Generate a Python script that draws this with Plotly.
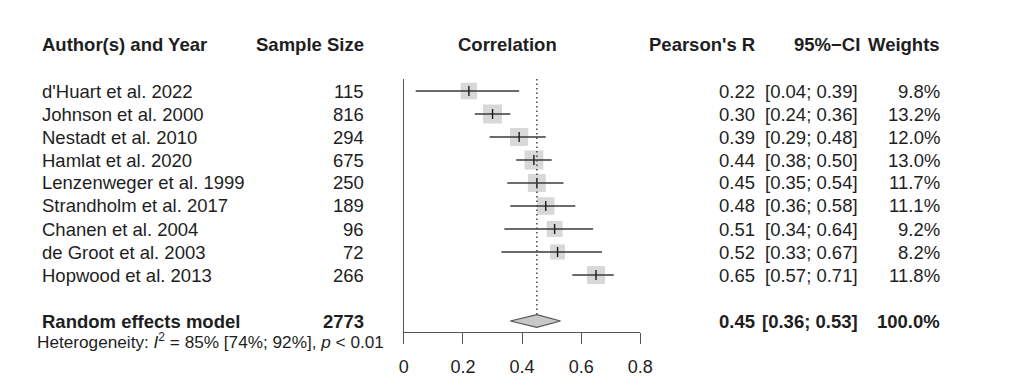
import plotly.graph_objects as go

# ---- data ----
studies = ["d'Huart et al. 2022", "Johnson et al. 2000", "Nestadt et al. 2010",
           "Hamlat et al. 2020", "Lenzenweger et al. 1999", "Strandholm et al. 2017",
           "Chanen et al. 2004", "de Groot et al. 2003", "Hopwood et al. 2013"]
sample_size = [115, 816, 294, 675, 250, 189, 96, 72, 266]
pearson_r = [0.22, 0.30, 0.39, 0.44, 0.45, 0.48, 0.51, 0.52, 0.65]
ci_low = [0.04, 0.24, 0.29, 0.38, 0.35, 0.36, 0.34, 0.33, 0.57]
ci_high = [0.39, 0.36, 0.48, 0.50, 0.54, 0.58, 0.64, 0.67, 0.71]
weights = [9.8, 13.2, 12.0, 13.0, 11.7, 11.1, 9.2, 8.2, 11.8]

pooled_label = "Random effects model"
pooled_n = 2773
pooled_r = 0.45
pooled_low = 0.36
pooled_high = 0.53
pooled_weight = 100.0
het_text = "Heterogeneity: <i>I</i><sup>2</sup> = 85% [74%; 92%], <i>p</i> < 0.01"

x_ticks = [0, 0.2, 0.4, 0.6, 0.8]
x_tick_labels = ["0", "0.2", "0.4", "0.6", "0.8"]

# ---- layout constants ----
W, H = 1024, 391
FONT = "Liberation Sans, Arial, Helvetica, sans-serif"
TXT = "#1e1e1e"
FS = 18.5
row_y = list(range(len(studies)))
pooled_y = len(studies) + 1
row_px0, row_step = 91, 23
top_px, axis_px = 79, 332


def row_of(px):
    return (px - row_px0) / row_step


def px_of(row):
    return row_px0 + row * row_step


fig = go.Figure()

# squares (size ~ sqrt(weight))
max_w = max(weights)
sizes = [19 * (w / max_w) ** 0.5 for w in weights]
fig.add_trace(go.Scatter(x=pearson_r, y=row_y, mode="markers",
                         marker=dict(symbol="square", size=sizes, color="#c8c8c8",
                                     line=dict(width=0)),
                         hoverinfo="skip", showlegend=False))

# confidence intervals
cx, cy = [], []
for lo, hi, y in zip(ci_low, ci_high, row_y):
    cx += [lo, hi, None]
    cy += [y, y, None]
fig.add_trace(go.Scatter(x=cx, y=cy, mode="lines",
                         line=dict(color="#3a3a3a", width=1.6),
                         hoverinfo="skip", showlegend=False))

# point estimate ticks
fig.add_trace(go.Scatter(x=pearson_r, y=row_y, mode="markers",
                         marker=dict(symbol="line-ns-open", size=7, color="#1a1a1a",
                                     line=dict(color="#1a1a1a", width=1.4)),
                         hoverinfo="skip", showlegend=False))

# dotted line at pooled estimate
dh = 6.3 / row_step
fig.add_trace(go.Scatter(x=[pooled_r, pooled_r], y=[row_of(top_px), pooled_y - dh],
                         mode="lines",
                         line=dict(color="#444", width=1.5, dash="1.5px,3px"),
                         hoverinfo="skip", showlegend=False))

# pooled diamond
fig.add_trace(go.Scatter(x=[pooled_low, pooled_r, pooled_high, pooled_r, pooled_low],
                         y=[pooled_y, pooled_y - dh, pooled_y, pooled_y + dh, pooled_y],
                         mode="lines", fill="toself", fillcolor="#c8c8c8",
                         line=dict(color="#555", width=1.2),
                         hoverinfo="skip", showlegend=False))

ann = []


def txt(px, py, text, anchor, bold=False, size=FS):
    if bold:
        text = "<b>" + text + "</b>"
    ann.append(dict(x=px / W, xref="paper", y=(H - py) / H, yref="paper", text=text,
                    xanchor=anchor, yanchor="middle", showarrow=False,
                    borderpad=0, borderwidth=0,
                    font=dict(family=FONT, size=size, color=TXT)))


hy = px_of(-2)
txt(38, hy, "Author(s) and Year", "left", True)
txt(365, hy, "Sample Size", "right", True)
txt(511, hy, "Correlation", "center", True)
txt(763, hy, "Pearson's R", "right", True)
txt(870, hy, "95%\u2212CI", "right", True)
txt(952, hy, "Weights", "right", True)

for i, y in enumerate(row_y):
    py = px_of(y)
    txt(38, py, studies[i], "left")
    txt(365, py, str(sample_size[i]), "right")
    txt(763, py, f"{pearson_r[i]:.2f}", "right")
    txt(868, py, f"[{ci_low[i]:.2f}; {ci_high[i]:.2f}]", "right")
    txt(952, py, f"{weights[i]:.1f}%", "right")

py = px_of(pooled_y)
txt(38, py, pooled_label, "left", True)
txt(365, py, str(pooled_n), "right", True)
txt(763, py, f"{pooled_r:.2f}", "right", True)
txt(868, py, f"[{pooled_low:.2f}; {pooled_high:.2f}]", "right", True)
txt(952, py, f"{pooled_weight:.1f}%", "right", True)

txt(33, 341, het_text, "left", size=17.2)

fig.update_layout(
    width=W, height=H, autosize=False,
    margin=dict(l=0, r=0, t=0, b=0),
    paper_bgcolor="white", plot_bgcolor="white",
    showlegend=False,
    annotations=ann,
    xaxis=dict(domain=[406 / W, 646.7 / W], range=[0, 0.8],
               tickvals=x_ticks, ticktext=x_tick_labels,
               showline=True, linecolor="#555", linewidth=1.3,
               ticks="outside", ticklen=11, tickcolor="#555", tickwidth=1.3,
               ticklabelstandoff=7,
               showgrid=False, zeroline=False, anchor="y",
               tickfont=dict(family=FONT, size=18, color=TXT)),
    yaxis=dict(domain=[(H - axis_px) / H, (H - top_px) / H],
               range=[row_of(axis_px), row_of(top_px)],
               showline=True, linecolor="#555", linewidth=1.3,
               showticklabels=False, ticks="", showgrid=False, zeroline=False),
)

fig.write_html("out.html", config={"responsive": False, "displayModeBar": False},
               post_script="document.body.style.margin='0px';"
                           "document.body.style.overflow='hidden';")
